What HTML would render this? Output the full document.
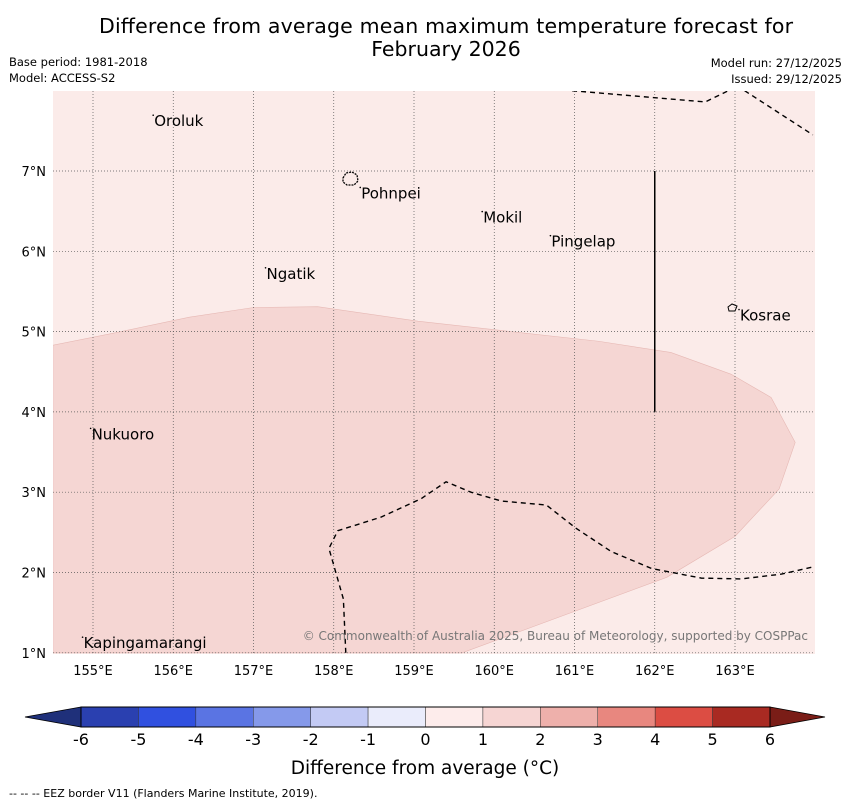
<!DOCTYPE html>
<html><head><meta charset="utf-8"><style>
body{margin:0;background:#fff;font-family:"DejaVu Sans","Liberation Sans",sans-serif;}
</style></head><body>
<svg width="850" height="804" xmlns="http://www.w3.org/2000/svg" font-family="DejaVu Sans, Liberation Sans, sans-serif">
<text x="446" y="33" font-size="20.5" text-anchor="middle" textLength="694">Difference from average mean maximum temperature forecast for</text>
<text x="446" y="56" font-size="20.5" text-anchor="middle">February 2026</text>
<text x="9" y="66" font-size="11.5">Base period: 1981-2018</text>
<text x="9" y="82" font-size="11.5">Model: ACCESS-S2</text>
<text x="842" y="67" font-size="11.5" text-anchor="end">Model run: 27/12/2025</text>
<text x="842" y="83" font-size="11.5" text-anchor="end">Issued: 29/12/2025</text>
<g id="map"></g>
<g id="cbar"></g>
<text x="425" y="774" font-size="18.5" text-anchor="middle">Difference from average (°C)</text>
<text x="9" y="797" font-size="11">--  --  -- EEZ border V11 (Flanders Marine Institute, 2019).</text>
</svg>
<script>
const lonTicks=[155,156,157,158,159,160,161,162,163];
const latTicks=[1,2,3,4,5,6,7];
const islandNames=["Oroluk","Pohnpei","Mokil","Pingelap","Ngatik","Kosrae","Nukuoro","Kapingamarangi"];
const islandLon=[155.75,158.33,159.85,160.7,157.15,163.05,154.97,154.87];
const islandLat=[7.62,6.72,6.42,6.12,5.72,5.2,3.72,1.12];
const anomalyRegionLon=[154.5,155.3,156.2,157.0,157.8,159.05,160.3,161.3,162.2,162.95,163.45,163.75,163.55,163.0,162.15,159.6,154.5];
const anomalyRegionLat=[4.83,4.99,5.18,5.3,5.31,5.13,4.99,4.88,4.74,4.47,4.18,3.62,3.04,2.45,1.94,1.0,1.0];
const eezTopLon=[160.97,162.63,163.0];
const eezTopLat=[8.0,7.86,8.04];
const eezTop2Lon=[163.12,163.97];
const eezTop2Lat=[8.0,7.45];
const eezBotLon=[158.15,158.12,157.94,158.05,158.59,159.09,159.4,159.71,160.09,160.65,161.02,161.46,161.96,162.58,163.08,163.58,164.02];
const eezBotLat=[1.0,1.67,2.3,2.52,2.69,2.92,3.13,3.0,2.89,2.84,2.55,2.26,2.05,1.93,1.92,1.98,2.08];
const cbLevels=[-6,-5,-4,-3,-2,-1,0,1,2,3,4,5,6];
const cbColors=["#2a40b0","#3050e0","#5a74e3","#8599ea","#c3caf4","#eaecfb","#fdeceb","#f6d5d3","#eeb0ab","#e8877f","#dc4d43","#a92a22"];
const NS="http://www.w3.org/2000/svg";
const X0=53,X1=815,Y0=91,Y1=654;
const lx=l=>93+(l-155)*80.25;
const ly=l=>171+(7-l)*80.3;
function mk(t,a,p){const e=document.createElementNS(NS,t);for(const k in a)e.setAttribute(k,a[k]);p.appendChild(e);return e;}
const map=document.getElementById('map');
const bg=mk('rect',{x:X0,y:Y0,width:X1-X0,height:Y1-Y0,fill:'#fbebe9'},map);


const cp=mk('clipPath',{id:'cp'},map);mk('rect',{x:X0,y:Y0,width:X1-X0,height:Y1-Y0},cp);
const g=mk('g',{'clip-path':'url(#cp)'},map);
const reg=mk('polygon',{points:anomalyRegionLon.map((l,i)=>lx(l)+','+ly(anomalyRegionLat[i])).join(' '),fill:'#f5d6d3',stroke:'#e6b8b4','stroke-width':0.6},g);


lonTicks.forEach(l=>{const ln=mk('line',{x1:lx(l),x2:lx(l),y1:Y0,y2:Y1,stroke:'#555','stroke-width':0.7,'stroke-dasharray':'1,2'},g);


const t=mk('text',{x:lx(l),y:675,'font-size':13,'text-anchor':'middle'},map);t.textContent=l+'°E';

});
latTicks.forEach(l=>{const ln=mk('line',{x1:X0,x2:X1,y1:ly(l),y2:ly(l),stroke:'#555','stroke-width':0.7,'stroke-dasharray':'1,2'},g);


const t=mk('text',{x:46,y:ly(l)+5,'font-size':13,'text-anchor':'end'},map);t.textContent=l+'°N';

});
[[eezTopLon,eezTopLat],[eezTop2Lon,eezTop2Lat],[eezBotLon,eezBotLat]].forEach(([a,b])=>{
const p=mk('polyline',{points:a.map((l,i)=>lx(l)+','+ly(b[i])).join(' '),fill:'none',stroke:'#000','stroke-width':1.4,'stroke-dasharray':'5,4'},g);

});
const vl=mk('line',{x1:lx(162),x2:lx(162),y1:ly(7),y2:ly(4),stroke:'#000','stroke-width':1.5},g);


const ph=mk('path',{d:'M343,178 l3,-5 6,-1 5,3 1,6 -4,4 -7,0 -4,-3z',fill:'none',stroke:'#000','stroke-width':1.3,'stroke-dasharray':'2,1'},g);


const ks=mk('path',{d:'M728,307 l4,-3 5,2 -2,5 -6,0z',fill:'none',stroke:'#000','stroke-width':1},g);


islandNames.forEach((n,i)=>{const x=lx(islandLon[i]),y=ly(islandLat[i]);
const d=mk('circle',{cx:x,cy:y-6,r:0.8,fill:'#000'},g);


const t=mk('text',{x:x+1,y:y+5,'font-size':15},g);t.textContent=n;

});
const cr=mk('text',{x:808,y:640,'font-size':12,'text-anchor':'end',fill:'#777'},g);
cr.textContent='© Commonwealth of Australia 2025, Bureau of Meteorology, supported by COSPPac';


const cb=document.getElementById('cbar');
const CX0=81,CX1=770,CY0=707,CY1=727,W=(CX1-CX0)/cbColors.length;
const cx=v=>CX0+(v-cbLevels[0])*W;
const la=mk('polygon',{points:`${CX0},${CY0} 25,717 ${CX0},${CY1}`,fill:'#1f307a',stroke:'#000','stroke-width':0.8},cb);


const ra=mk('polygon',{points:`${CX1},${CY0} 825,717 ${CX1},${CY1}`,fill:'#7a1d17',stroke:'#000','stroke-width':0.8},cb);


cbColors.forEach((c,i)=>{const r=mk('rect',{x:cx(cbLevels[i]),y:CY0,width:W,height:CY1-CY0,fill:c,stroke:'#333','stroke-width':0.5},cb);

});
mk('rect',{x:CX0,y:CY0,width:CX1-CX0,height:CY1-CY0,fill:'none',stroke:'#000','stroke-width':1},cb);
cbLevels.forEach(v=>{const t=mk('text',{x:cx(v),y:745,'font-size':16,'text-anchor':'middle'},cb);t.textContent=v;

});
</script>
</body></html>
